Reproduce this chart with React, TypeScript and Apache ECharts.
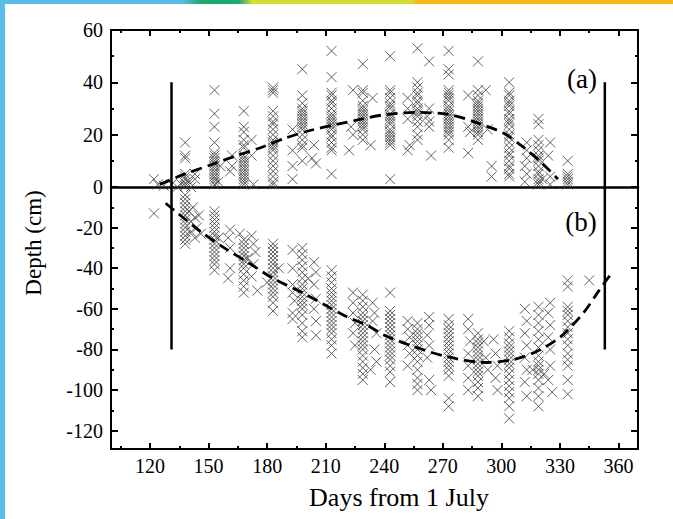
import React, { useEffect, useRef } from "react";
import * as echarts from "echarts";

// ---------- tick values ----------
const xMajor = [120, 150, 180, 210, 240, 270, 300, 330, 360];
const xMinor = [105, 135, 165, 195, 225, 255, 285, 315, 345];
const yTopMajor = [0, 20, 40, 60];
const yTopMinor = [10, 30, 50];
const yBotMajor = [-120, -100, -80, -60, -40, -20];
const yBotMinor = [-110, -90, -70, -50, -30, -10];

// ---------- observations (a): days from 1 July, depth in cm ----------
const pointsA: [number, number][] = [
  [122, 3], [124, 1], [127, 0.5], [131, 1], [134, 0], [136, 1],
  [138, 17], [138, 12], [138, 11], [138, 5], [138, 4], [138, 3], [138, 1.5], [138, 0.5], [140, 2], [143, 5], [143, 3], [141, 0],
  [153, 37], [153, 28], [153, 23], [153, 17], [153, 13], [153, 12], [153, 11], [153, 10], [153, 9], [153, 8], [153, 7], [153, 6], [153, 5], [153, 4], [153, 3], [153, 2], [153, 1], [156, 8], [155, 2],
  [162, 12], [162, 8], [161, 6], [168, 29], [168, 23], [168, 21], [168, 18], [168, 16], [168, 15], [168, 12], [168, 11], [168, 10], [168, 9], [168, 8], [168, 7], [168, 6], [168, 5], [168, 4], [168, 3], [168, 2], [168, 1], [172, 18], [172, 12], [173, 1],
  [183, 38], [183, 37], [183, 36], [183, 29], [183, 27], [183, 25], [183, 24], [183, 22], [183, 20], [183, 18], [183, 17], [183, 16], [183, 15], [183, 14], [183, 12], [183, 10], [183, 8], [183, 6], [183, 4], [183, 2], [183, 1],
  [198, 45], [198, 35], [198, 32], [198, 30], [198, 29], [198, 28], [198, 27], [198, 26], [198, 25], [198, 24], [198, 23], [198, 22], [198, 20], [198, 18], [198, 16], [198, 15], [198, 10], [193, 22], [193, 14], [193, 8], [193, 3], [204, 16], [203, 11], [205, 9],
  [213, 52], [213, 42], [213, 36], [213, 35], [213, 33], [213, 32], [213, 30], [213, 28], [213, 27], [213, 26], [213, 25], [213, 24], [213, 23], [213, 22], [213, 20], [213, 19], [213, 17], [213, 15], [213, 14], [213, 5],
  [229, 47], [229, 37], [229, 36], [229, 33], [229, 31], [229, 30], [229, 29], [229, 28], [229, 27], [229, 26], [229, 25], [229, 24], [229, 23], [229, 22], [229, 20], [229, 18], [224, 37], [223, 23], [224, 20], [222, 14], [234, 34], [233, 16],
  [243, 50], [243, 37], [243, 36], [243, 34], [243, 32], [243, 31], [243, 30], [243, 28], [243, 27], [243, 26], [243, 25], [243, 24], [243, 22], [243, 21], [243, 20], [243, 19], [243, 18], [243, 17], [243, 16], [243, 3],
  [257, 53], [257, 40], [257, 38], [257, 36], [257, 35], [257, 33], [257, 32], [257, 30], [257, 29], [257, 28], [257, 27], [257, 25], [257, 23], [257, 20], [257, 18], [252, 34], [252, 30], [252, 26], [253, 16], [252, 14], [263, 48], [263, 30], [262, 27], [263, 25], [263, 23], [264, 12],
  [273, 52], [273, 45], [273, 43], [273, 37], [273, 36], [273, 35], [273, 34], [273, 33], [273, 31], [273, 30], [273, 29], [273, 28], [273, 27], [273, 26], [273, 25], [273, 24], [273, 23], [273, 22], [273, 21], [273, 20], [273, 18], [273, 15],
  [288, 48], [288, 37], [288, 35], [288, 33], [288, 32], [288, 31], [288, 30], [288, 29], [288, 28], [288, 27], [288, 26], [288, 25], [288, 24], [288, 23], [288, 22], [288, 21], [288, 20], [288, 18], [283, 35], [283, 23], [284, 21], [283, 13], [292, 37], [293, 22], [295, 8], [295, 4],
  [304, 40], [304, 36], [304, 35], [304, 33], [304, 32], [304, 31], [304, 29], [304, 28], [304, 26], [304, 25], [304, 24], [304, 22], [304, 20], [304, 19], [304, 17], [304, 15], [304, 13], [304, 12], [304, 10], [304, 8], [304, 7], [304, 5], [304, 4],
  [319, 26], [319, 24], [319, 18], [319, 16], [319, 14], [319, 12], [319, 11], [319, 10], [319, 8], [319, 6], [319, 5], [319, 3], [319, 2], [319, 1], [313, 17], [313, 14], [313, 11], [312, 8], [313, 5], [312, 2], [325, 17], [324, 12], [325, 4], [325, 1], [321, 3],
  [334, 10], [334, 5], [334, 4], [334, 3], [334, 2], [334, 1],
];

// ---------- observations (b) ----------
const pointsB: [number, number][] = [
  [122, -13],
  [138, -4], [138, -6], [138, -8], [138, -10], [138, -12], [138, -14], [138, -16], [138, -18], [138, -20], [138, -22], [138, -24], [138, -26], [138, -28], [140, -12], [141, -17], [142, -10], [143, -15], [144, -20], [145, -14], [143, -25], [146, -23], [141, -22],
  [153, -12], [153, -14], [153, -16], [153, -18], [153, -20], [153, -22], [153, -24], [153, -26], [153, -28], [153, -30], [153, -32], [153, -34], [153, -36], [153, -38], [153, -41], [155, -25],
  [161, -21], [160, -25], [161, -30], [161, -40], [160, -45], [166, -23], [168, -26], [168, -28], [168, -30], [168, -32], [168, -34], [168, -36], [168, -38], [168, -40], [168, -43], [168, -46], [168, -49], [168, -52], [172, -24], [173, -28], [174, -32], [173, -38], [172, -44], [175, -51], [170, -35],
  [183, -28], [183, -30], [183, -32], [183, -34], [183, -36], [183, -38], [183, -40], [183, -42], [183, -44], [183, -46], [183, -48], [183, -50], [183, -52], [183, -54], [183, -57], [183, -61], [180, -47], [186, -40],
  [198, -30], [198, -33], [198, -36], [198, -39], [198, -42], [198, -45], [198, -48], [198, -50], [198, -52], [198, -54], [198, -56], [198, -58], [198, -60], [198, -63], [198, -67], [198, -71], [198, -74], [193, -31], [193, -40], [193, -48], [193, -52], [194, -56], [193, -62], [193, -65], [204, -37], [205, -42], [204, -48], [205, -55], [204, -60], [205, -66], [205, -73], [201, -45],
  [213, -41], [213, -44], [213, -47], [213, -50], [213, -52], [213, -54], [213, -56], [213, -58], [213, -60], [213, -62], [213, -64], [213, -66], [213, -68], [213, -70], [213, -72], [213, -75], [213, -78], [213, -82],
  [229, -53], [229, -56], [229, -59], [229, -62], [229, -64], [229, -66], [229, -68], [229, -70], [229, -72], [229, -74], [229, -76], [229, -78], [229, -80], [229, -83], [229, -86], [229, -89], [229, -92], [229, -95], [224, -52], [224, -57], [224, -62], [225, -67], [224, -72], [225, -78], [234, -57], [235, -62], [234, -66], [236, -72], [235, -80], [236, -86], [233, -90],
  [243, -52], [243, -61], [243, -63], [243, -65], [243, -67], [243, -69], [243, -71], [243, -73], [243, -75], [243, -77], [243, -79], [243, -81], [243, -83], [243, -85], [243, -88], [243, -91], [243, -96],
  [252, -66], [252, -70], [253, -74], [252, -78], [253, -82], [252, -88], [257, -67], [257, -70], [257, -72], [257, -74], [257, -76], [257, -78], [257, -80], [257, -83], [257, -86], [257, -90], [257, -94], [257, -97], [257, -100], [263, -64], [263, -68], [262, -73], [263, -78], [262, -84], [263, -95], [264, -100],
  [273, -65], [273, -68], [273, -70], [273, -72], [273, -74], [273, -76], [273, -78], [273, -80], [273, -82], [273, -84], [273, -86], [273, -88], [273, -90], [273, -93], [273, -104], [273, -108],
  [283, -65], [283, -70], [284, -76], [283, -82], [283, -88], [283, -94], [283, -100], [288, -72], [288, -75], [288, -77], [288, -79], [288, -81], [288, -83], [288, -85], [288, -87], [288, -89], [288, -91], [288, -93], [288, -96], [288, -99], [288, -103], [291, -76], [292, -84], [293, -90], [296, -75], [297, -82], [298, -88], [297, -94], [298, -100],
  [304, -71], [304, -74], [304, -77], [304, -79], [304, -81], [304, -83], [304, -85], [304, -87], [304, -89], [304, -92], [304, -95], [304, -98], [304, -101], [304, -104], [304, -108], [304, -114],
  [312, -60], [313, -66], [312, -72], [313, -78], [312, -84], [313, -90], [312, -96], [313, -103], [319, -59], [319, -63], [319, -67], [319, -71], [319, -75], [319, -79], [319, -83], [319, -86], [319, -88], [319, -90], [319, -92], [319, -95], [319, -99], [319, -103], [319, -108], [325, -57], [324, -62], [325, -68], [324, -74], [325, -80], [325, -88], [324, -95], [326, -101], [316, -90], [322, -92],
  [334, -46], [334, -49], [334, -59], [334, -61], [334, -63], [334, -66], [334, -69], [334, -72], [334, -75], [334, -78], [334, -82], [334, -85], [334, -88], [334, -95], [334, -102], [345, -46],
];

// ---------- fitted curves ----------
const curveA: [number, number][] = [
  [125, 1], [138, 5], [152, 8.7], [164, 11.9], [178, 15.4], [189, 18.6], [202, 21.6], [215, 23.8], [228, 25.9], [240, 27.6],
  [257, 28.5], [274, 27.6], [288, 24.4], [301, 20.6], [311, 15.4], [321, 9], [329, 3],
];
const curveB: [number, number][] = [
  [128, -8], [146, -22], [158, -30], [170, -37], [183, -45], [198, -52], [219, -63], [233, -69], [240, -73], [255, -78.5],
  [272, -83.5], [292, -86.4], [306, -85], [318, -81], [330, -74], [342, -62], [350, -51], [356, -43],
];

// ---------- vertical markers ----------
const markerDays = [131, 353];
const markerTop = 40;
const markerBottom = -80;

const SERIF = '"Liberation Serif", "Times New Roman", serif';

export default function App() {
  const ref = useRef<HTMLDivElement>(null);
  useEffect(() => {
    if (!ref.current) return;
    const chart = echarts.init(ref.current, null, { renderer: "svg" });

    const black = "#000";
    const lineW = 2;

    const xAx = (grid: number, position: string, opts: any) => ({
      type: "value",
      gridIndex: grid,
      position,
      min: 100,
      max: 370,
      splitLine: { show: false },
      axisLine: { show: !!opts.line, onZero: false, lineStyle: { color: black, width: opts.lw || lineW } },
      axisTick: opts.ticks
        ? { show: true, inside: true, length: opts.len, customValues: opts.ticks, lineStyle: { color: black, width: lineW } }
        : { show: false },
      axisLabel: opts.labels
        ? { show: true, customValues: opts.labels, color: black, fontFamily: SERIF, fontSize: 20, margin: 7 }
        : { show: false },
    });
    const yAx = (grid: number, position: string, min: number, max: number, opts: any) => ({
      type: "value",
      gridIndex: grid,
      position,
      min,
      max,
      splitLine: { show: false },
      axisLine: { show: !!opts.line, onZero: false, lineStyle: { color: black, width: lineW } },
      axisTick: opts.ticks
        ? { show: true, inside: true, length: opts.len, customValues: opts.ticks, lineStyle: { color: black, width: lineW } }
        : { show: false },
      axisLabel: opts.labels
        ? { show: true, customValues: opts.labels, color: black, fontFamily: SERIF, fontSize: 20, margin: 8 }
        : { show: false },
    });

    const crossSymbol = "path://M0,0L10,10M10,0L0,10";
    const scatterStyle = {
      color: "rgba(0,0,0,0)",
      borderColor: "#3c3c3c",
      borderWidth: 1,
      opacity: 0.8,
    };

    const vLine = (grid: number, day: number, y0: number, y1: number) => ({
      type: "line",
      xAxisIndex: grid === 0 ? 0 : 3,
      yAxisIndex: grid === 0 ? 0 : 4,
      data: [[day, y0], [day, y1]],
      symbol: "none",
      silent: true,
      lineStyle: { color: black, width: 2.5 },
      z: 5,
    });

    chart.setOption({
      animation: false,
      grid: [
        { left: 111, top: 30, width: 527, height: 157 },
        { left: 111, top: 187, width: 527, height: 262 },
      ],
      xAxis: [
        xAx(0, "top", { line: true, ticks: xMajor, len: 6 }),
        xAx(0, "top", { ticks: xMinor, len: 3 }),
        xAx(0, "bottom", { line: true, lw: 2.5 }),
        xAx(1, "bottom", { line: true, ticks: xMajor, len: 6, labels: xMajor }),
        xAx(1, "bottom", { ticks: xMinor, len: 3 }),
      ],
      yAxis: [
        yAx(0, "left", 0, 60, { line: true, ticks: yTopMajor, len: 7, labels: yTopMajor }),
        yAx(0, "left", 0, 60, { ticks: yTopMinor, len: 3 }),
        yAx(0, "right", 0, 60, { line: true, ticks: yTopMajor, len: 7 }),
        yAx(0, "right", 0, 60, { ticks: yTopMinor, len: 3 }),
        yAx(1, "left", -129, 0, { line: true, ticks: yBotMajor, len: 7, labels: yBotMajor }),
        yAx(1, "left", -129, 0, { ticks: yBotMinor, len: 3 }),
        yAx(1, "right", -129, 0, { line: true, ticks: yBotMajor, len: 7 }),
        yAx(1, "right", -129, 0, { ticks: yBotMinor, len: 3 }),
      ],
      series: [
        {
          type: "scatter",
          xAxisIndex: 0,
          yAxisIndex: 0,
          data: pointsA,
          symbol: crossSymbol,
          symbolSize: 10,
          itemStyle: scatterStyle,
          clip: false,
        },
        {
          type: "scatter",
          xAxisIndex: 3,
          yAxisIndex: 4,
          data: pointsB,
          symbol: crossSymbol,
          symbolSize: 10,
          itemStyle: scatterStyle,
          clip: false,
        },
        {
          type: "line",
          xAxisIndex: 0,
          yAxisIndex: 0,
          data: curveA,
          symbol: "none",
          smooth: 0.3,
          lineStyle: { color: black, width: 2.8, type: [11, 6] },
          z: 6,
        },
        {
          type: "line",
          xAxisIndex: 3,
          yAxisIndex: 4,
          data: curveB,
          symbol: "none",
          smooth: 0.3,
          lineStyle: { color: black, width: 2.8, type: [11, 6] },
          z: 6,
        },
        ...markerDays.flatMap((d) => [vLine(0, d, 0, markerTop), vLine(1, d, markerBottom, 0)]),
      ],
      graphic: [
        { type: "rect", left: 0, top: 0, shape: { width: 5, height: 519 }, style: { fill: "#5bbce9" }, silent: true },
        {
          type: "rect",
          left: 0,
          top: 0,
          shape: { width: 673, height: 4 },
          silent: true,
          style: {
            fill: new echarts.graphic.LinearGradient(0, 0, 1, 0, [
              { offset: 0, color: "#5bbce9" },
              { offset: 0.27, color: "#5bbce9" },
              { offset: 0.3, color: "#1aa970" },
              { offset: 0.355, color: "#1aa970" },
              { offset: 0.375, color: "#d4df2c" },
              { offset: 0.612, color: "#d4df2c" },
              { offset: 0.62, color: "#fdb618" },
              { offset: 1, color: "#fdb618" },
            ]),
          },
        },
        {
          type: "text",
          x: 582,
          y: 79,
          style: { text: "(a)", fill: black, font: `27px ${SERIF}`, textAlign: "center", textVerticalAlign: "middle" },
        },
        {
          type: "text",
          x: 581,
          y: 222,
          style: { text: "(b)", fill: black, font: `27px ${SERIF}`, textAlign: "center", textVerticalAlign: "middle" },
        },
        {
          type: "text",
          x: 399,
          y: 497,
          style: { text: "Days from 1 July", fill: black, font: `26px ${SERIF}`, textAlign: "center", textVerticalAlign: "middle" },
        },
        {
          type: "text",
          x: 33,
          y: 243,
          rotation: Math.PI / 2,
          style: { text: "Depth (cm)", fill: black, font: `23px ${SERIF}`, textAlign: "center", textVerticalAlign: "middle" },
        },
      ],
    });
    return () => chart.dispose();
  }, []);

  return (
    <div
      ref={ref}
      style={{ position: "fixed", left: 0, top: 0, width: 673, height: 519, background: "#fff" }}
    />
  );
}
